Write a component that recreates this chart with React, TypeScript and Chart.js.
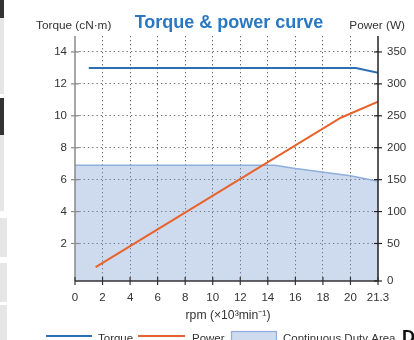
import React, { useEffect, useRef } from 'react';
import { Chart, registerables } from 'chart.js';

Chart.register(...registerables);

// ---- data ----
const rpmTicks = [0, 2, 4, 6, 8, 10, 12, 14, 16, 18, 20, 22];
const rpmTickLabels = ['0', '2', '4', '6', '8', '10', '12', '14', '16', '18', '20', '21.3'];
const torqueTicks = [2, 4, 6, 8, 10, 12, 14];
const powerTicks = [0, 50, 100, 150, 200, 250, 300, 350];

const torqueRpm = [1, 20.4, 22];
const torqueValues = [13, 13, 12.7];

const powerRpm = [1.5, 19.3, 22];
const powerValues = [13, 247, 272];

const dutyRpm = [0, 14.5, 16, 20, 22];
const dutyTorque = [6.9, 6.9, 6.7, 6.25, 5.9];

const titleText = 'Torque & power curve';
const leftAxisTitle = 'Torque (cN·m)';
const rightAxisTitle = 'Power (W)';
const xAxisTitle = 'rpm (×10³min⁻¹)';
const legendLabels = ['Torque', 'Power', 'Continuous Duty Area'];

// ---- styles ----
const FONT = '"Liberation Sans", Arial, Helvetica, sans-serif';
const TORQUE_COLOR = '#2e6fb4';
const POWER_COLOR = '#e8632b';
const AREA_FILL = 'rgba(118,152,209,0.36)';
const AREA_BORDER = '#8eaedc';
const TEXT_COLOR = '#333333';

const toPoints = (xs: number[], ys: number[]) => xs.map((x, i) => ({ x, y: ys[i] }));

const decorPlugin = {
  id: 'decor',
  afterDraw(chart: any) {
    const ctx = chart.ctx as CanvasRenderingContext2D;
    const { x, yT, yP } = chart.scales;
    const area = chart.chartArea;
    ctx.save();
    ctx.setLineDash([]);

    // axis lines
    ctx.lineWidth = 1.5;
    ctx.strokeStyle = '#8a8a8a';
    ctx.beginPath();
    ctx.moveTo(area.left, area.top);
    ctx.lineTo(area.left, area.bottom);
    ctx.stroke();
    ctx.strokeStyle = '#222';
    ctx.beginPath();
    ctx.moveTo(area.right, area.top);
    ctx.lineTo(area.right, area.bottom);
    ctx.stroke();
    ctx.strokeStyle = '#333';
    ctx.beginPath();
    ctx.moveTo(area.left, area.bottom);
    ctx.lineTo(area.right + 1, area.bottom);
    ctx.stroke();

    // crossing tick marks
    ctx.lineWidth = 1.2;
    ctx.strokeStyle = '#8a8a8a';
    yT.ticks.forEach((t: any) => {
      const py = yT.getPixelForValue(t.value);
      ctx.beginPath();
      ctx.moveTo(area.left - 4, py);
      ctx.lineTo(area.left + 4, py);
      ctx.stroke();
    });
    ctx.strokeStyle = '#222';
    yP.ticks.forEach((t: any) => {
      const py = yP.getPixelForValue(t.value);
      ctx.beginPath();
      ctx.moveTo(area.right - 4, py);
      ctx.lineTo(area.right + 4, py);
      ctx.stroke();
    });
    ctx.strokeStyle = '#333';
    x.ticks.forEach((t: any) => {
      const px = x.getPixelForValue(t.value);
      ctx.beginPath();
      ctx.moveTo(px, area.bottom - 4);
      ctx.lineTo(px, area.bottom + 4);
      ctx.stroke();
    });

    // title
    ctx.textBaseline = 'middle';
    ctx.fillStyle = '#2a78c2';
    ctx.font = `bold 18px ${FONT}`;
    ctx.textAlign = 'center';
    ctx.fillText(titleText, 229, 23);

    // axis titles
    ctx.fillStyle = TEXT_COLOR;
    ctx.font = `11.8px ${FONT}`;
    ctx.textAlign = 'left';
    ctx.fillText(leftAxisTitle, 36, 26);
    ctx.textAlign = 'right';
    ctx.fillText(rightAxisTitle, 405, 26);
    ctx.textAlign = 'center';
    ctx.font = `12.2px ${FONT}`;
    ctx.fillText(xAxisTitle, 228, 316);

    // legend
    const ly = 336;
    ctx.lineWidth = 2;
    ctx.strokeStyle = TORQUE_COLOR;
    ctx.beginPath();
    ctx.moveTo(46, ly);
    ctx.lineTo(92, ly);
    ctx.stroke();
    ctx.strokeStyle = POWER_COLOR;
    ctx.beginPath();
    ctx.moveTo(138, ly);
    ctx.lineTo(185, ly);
    ctx.stroke();
    ctx.fillStyle = AREA_FILL;
    ctx.fillRect(231, 331, 45, 14);
    ctx.lineWidth = 1.2;
    ctx.strokeStyle = AREA_BORDER;
    ctx.strokeRect(231.5, 331.5, 45, 14);

    ctx.fillStyle = TEXT_COLOR;
    ctx.font = `11.5px ${FONT}`;
    ctx.textAlign = 'left';
    ctx.fillText(legendLabels[0], 98, ly + 2.5);
    ctx.fillText(legendLabels[1], 192, ly + 2.5);
    ctx.fillText(legendLabels[2], 283, ly + 2.5);

    ctx.fillStyle = '#111';
    ctx.font = `bold 18px ${FONT}`;
    ctx.fillText('D', 402, ly + 2);

    ctx.restore();
  },
};

const strips = [
  { top: 0, height: 18, width: 4, color: '#333' },
  { top: 18, height: 76, width: 4, color: '#e6e6e6' },
  { top: 98, height: 37, width: 4, color: '#333' },
  { top: 135, height: 76, width: 4, color: '#e6e6e6' },
  { top: 218, height: 39, width: 7, color: '#e6e6e6' },
  { top: 263, height: 39, width: 7, color: '#e6e6e6' },
  { top: 305, height: 40, width: 7, color: '#e6e6e6' },
];

export default function App() {
  const canvasRef = useRef<HTMLCanvasElement | null>(null);

  useEffect(() => {
    document.body.style.margin = '0';
    const canvas = canvasRef.current;
    if (!canvas) return;

    const chart = new Chart(canvas, {
      type: 'line',
      data: {
        datasets: [
          {
            label: legendLabels[0],
            data: toPoints(torqueRpm, torqueValues),
            yAxisID: 'yT',
            borderColor: TORQUE_COLOR,
            borderWidth: 2,
            pointRadius: 0,
            fill: false,
            order: 1,
          },
          {
            label: legendLabels[1],
            data: toPoints(powerRpm, powerValues),
            yAxisID: 'yP',
            borderColor: POWER_COLOR,
            borderWidth: 2,
            pointRadius: 0,
            fill: false,
            order: 2,
          },
          {
            label: legendLabels[2],
            data: toPoints(dutyRpm, dutyTorque),
            yAxisID: 'yT',
            borderColor: AREA_BORDER,
            backgroundColor: AREA_FILL,
            borderWidth: 1.5,
            pointRadius: 0,
            fill: 'start',
            order: 3,
          },
        ],
      },
      options: {
        animation: false,
        responsive: false,
        devicePixelRatio: 1,
        layout: { padding: { top: 36, left: 0, right: 0, bottom: 0 } },
        plugins: {
          legend: { display: false },
          title: { display: false },
          tooltip: { enabled: false },
        },
        scales: {
          x: {
            type: 'linear',
            min: 0,
            max: 22,
            afterBuildTicks: (s: any) => {
              s.ticks = rpmTicks.map((v) => ({ value: v }));
            },
            afterFit: (s: any) => {
              s.height = 59;
            },
            ticks: {
              autoSkip: false,
              maxRotation: 0,
              padding: 10,
              color: TEXT_COLOR,
              font: { family: FONT, size: 11.5 },
              callback: (v: any) => {
                const i = rpmTicks.indexOf(Number(v));
                return i >= 0 ? rpmTickLabels[i] : '';
              },
            },
            grid: {
              drawTicks: false,
              lineWidth: 1,
              color: (c: any) =>
                c.tick && (c.tick.value === 0 || c.tick.value === 22) ? 'rgba(0,0,0,0)' : '#6a6a6a',
            },
            border: { display: false, dash: [1.3, 2.7] },
          },
          yT: {
            type: 'linear',
            position: 'left',
            min: -0.35,
            max: 15,
            afterBuildTicks: (s: any) => {
              s.ticks = torqueTicks.map((v) => ({ value: v }));
            },
            afterFit: (s: any) => {
              s.width = 75;
            },
            ticks: {
              padding: 8,
              color: TEXT_COLOR,
              font: { family: FONT, size: 11.5 },
            },
            grid: {
              drawTicks: false,
              lineWidth: 1,
              color: '#6a6a6a',
            },
            border: { display: false, dash: [1.3, 3] },
          },
          yP: {
            type: 'linear',
            position: 'right',
            min: -8.75,
            max: 375,
            afterBuildTicks: (s: any) => {
              // the zero tick sits on the x axis line (bottom of the scale)
              s.ticks = powerTicks.map((v) => ({ value: v === 0 ? s.min : v }));
            },
            afterFit: (s: any) => {
              s.width = 36;
            },
            ticks: {
              padding: 9,
              color: TEXT_COLOR,
              font: { family: FONT, size: 11.5 },
              callback: (v: any) => (Number(v) < 0 ? '0' : String(v)),
            },
            grid: { display: false, drawTicks: false },
            border: { display: false },
          },
        },
      },
      plugins: [decorPlugin],
    });

    return () => chart.destroy();
  }, []);

  return (
    <div style={{ position: 'relative', width: 414, height: 340, overflow: 'hidden', background: '#fff' }}>
      <canvas ref={canvasRef} width={414} height={340} style={{ display: 'block', width: 414, height: 340 }} />
      {strips.map((s, i) => (
        <div
          key={i}
          style={{ position: 'absolute', left: 0, top: s.top, width: s.width, height: s.height, background: s.color }}
        />
      ))}
    </div>
  );
}
